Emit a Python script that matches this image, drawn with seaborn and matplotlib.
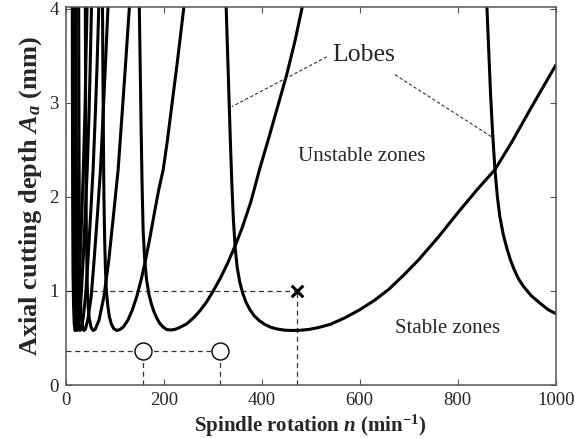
import matplotlib
matplotlib.use("Agg")
import matplotlib.pyplot as plt
import numpy as np
import pandas as pd
import seaborn as sns

# Stability lobes: spindle speed n (min^-1) and limiting axial depth a (mm)
lobe0_n = [327, 330, 333, 336, 339, 342, 346, 350, 355, 361, 368, 376, 385, 395, 406, 418, 432, 447,
           462, 478, 495, 515, 540, 570, 600, 630, 660, 690, 720, 760, 800, 840, 876, 910, 950, 1000]
lobe0_a = [4.10, 3.60, 3.10, 2.60, 2.15, 1.78, 1.45, 1.25, 1.10, 0.98, 0.88, 0.80, 0.735, 0.685, 0.645, 0.615, 0.595, 0.583,
           0.58, 0.582, 0.59, 0.61, 0.645, 0.715, 0.80, 0.90, 1.02, 1.17, 1.33, 1.57, 1.83, 2.08, 2.29, 2.58, 2.95, 3.40]

lobe1_n = [150, 152, 154, 156, 158, 161, 165, 170, 175, 180, 186, 192, 199, 206, 214, 222, 232,
           247, 262, 274, 287, 300, 315, 330, 345, 360, 378, 396, 414, 432, 451, 468, 486]
lobe1_a = [4.10, 3.40, 2.70, 2.10, 1.65, 1.35, 1.12, 0.96, 0.86, 0.78, 0.71, 0.655, 0.615, 0.59, 0.585, 0.59, 0.61,
           0.65, 0.72, 0.79, 0.88, 0.99, 1.13, 1.29, 1.47, 1.67, 1.95, 2.30, 2.62, 2.95, 3.30, 3.66, 4.10]

lobe2_n = [75, 76, 77, 78, 79.5, 81, 83, 86, 89, 93, 98, 104, 111, 118, 127, 136, 145,
           154, 163, 172, 181, 190, 199, 207, 216, 227, 235, 243]
lobe2_a = [4.10, 3.30, 2.60, 2.00, 1.55, 1.25, 1.00, 0.84, 0.73, 0.65, 0.60, 0.58, 0.59, 0.62, 0.69, 0.80, 0.94,
           1.12, 1.33, 1.57, 1.83, 2.08, 2.29, 2.58, 2.95, 3.40, 3.75, 4.10]

lobe3_n = [40, 40.6, 41.3, 42.2, 44, 46, 48, 52, 56, 60, 68, 78, 88, 98, 107, 116, 122, 131]
lobe3_a = [4.10, 3.10, 2.20, 1.60, 1.05, 0.82, 0.71, 0.61, 0.58, 0.59, 0.69, 0.94, 1.33, 1.83, 2.29, 2.95, 3.40, 4.10]

lobe4_n = [26.5, 27, 27.6, 28.5, 29.5, 31.5, 34, 37, 40, 45, 52, 58, 65, 71, 77, 81, 87]
lobe4_a = [4.10, 3.00, 2.00, 1.40, 1.00, 0.75, 0.63, 0.58, 0.59, 0.69, 0.94, 1.33, 1.83, 2.29, 2.95, 3.40, 4.10]

lobe5_n = [21, 21.5, 22.2, 23, 24.5, 26.5, 29, 32, 36, 41, 46, 51, 56, 61, 64, 68]
lobe5_a = [4.10, 2.80, 1.80, 1.20, 0.85, 0.66, 0.58, 0.60, 0.72, 0.98, 1.37, 1.83, 2.30, 2.95, 3.40, 4.10]

lobe6_n = [16.5, 17, 17.5, 18.2, 19.5, 21, 23, 25.5, 28, 32, 36, 40, 44, 48, 50, 53]
lobe6_a = [4.10, 2.80, 1.80, 1.20, 0.85, 0.66, 0.58, 0.60, 0.72, 0.98, 1.37, 1.83, 2.30, 2.95, 3.40, 4.10]

lobe7_n = [13.4, 13.8, 14.3, 14.9, 16, 17.3, 19, 21, 23.3, 26.5, 29.5, 33, 36, 39.5, 41, 44]
lobe7_a = [4.10, 2.80, 1.80, 1.20, 0.85, 0.66, 0.58, 0.60, 0.72, 0.98, 1.37, 1.83, 2.30, 2.95, 3.40, 4.10]

# Left branch of the next lobe toward higher speed
lobe_r_n = [859, 863, 867, 871, 876, 881, 886, 893, 900, 907, 915, 924, 934, 950, 968, 985, 1000]
lobe_r_a = [4.10, 3.60, 3.10, 2.70, 2.29, 2.00, 1.79, 1.60, 1.46, 1.34, 1.23, 1.13, 1.05, 0.95, 0.87, 0.80, 0.76]

# Operating points
unstable_pt = (473, 1.0)
stable_n = [157, 314]
stable_a = 0.36

x_ticks = [0, 200, 400, 600, 800, 1000]
y_ticks = [0, 1, 2, 3, 4]

lobes = [(lobe0_n, lobe0_a), (lobe1_n, lobe1_a), (lobe2_n, lobe2_a), (lobe3_n, lobe3_a),
         (lobe4_n, lobe4_a), (lobe5_n, lobe5_a), (lobe6_n, lobe6_a), (lobe7_n, lobe7_a),
         (lobe_r_n, lobe_r_a)]
df = pd.concat([pd.DataFrame({"n": n, "a": a, "lobe": i}) for i, (n, a) in enumerate(lobes)],
               ignore_index=True)

sns.set_theme(style="ticks")
plt.rcParams.update({
    "font.family": ["Liberation Serif", "DejaVu Serif"],
    "mathtext.fontset": "custom",
    "mathtext.rm": "Liberation Serif",
    "mathtext.it": "Liberation Serif:italic:bold",
    "mathtext.bf": "Liberation Serif:bold",
})

W, H = 575, 438
fig = plt.figure(figsize=(W / 100, H / 100), dpi=100)
ax = fig.add_axes([65.7 / W, 1 - 385 / H, (555.7 - 65.7) / W, (385 - 7) / H])

sns.lineplot(data=df, x="n", y="a", units="lobe", estimator=None, sort=False,
             color="black", linewidth=2.2, ax=ax, legend=False)

dash = dict(color="#333333", linewidth=0.9, linestyle=(0, (4, 3)), zorder=1)
ux, uy = unstable_pt
ax.plot([0, ux], [uy, uy], **dash)
ax.plot([ux, ux], [0, uy], **dash)
ax.plot([0, stable_n[1]], [stable_a, stable_a], **dash)
for n in stable_n:
    ax.plot([n, n], [0, stable_a], **dash)

sns.scatterplot(x=stable_n, y=[stable_a] * len(stable_n), marker="o", s=150,
                facecolor="white", edgecolor="black", linewidth=1.0, zorder=5, ax=ax)
ax.scatter([ux], [uy], marker="x", s=70, color="black", linewidths=2.2, zorder=5)

# Annotations
ax.text(609, 3.51, "Lobes", fontsize=18.5, ha="center", va="center")
ax.plot([533, 339], [3.49, 2.96], color="#333333", linewidth=0.8, linestyle=(0, (3, 2)))
ax.plot([672, 869], [3.30, 2.64], color="#333333", linewidth=0.8, linestyle=(0, (3, 2)))
ax.text(604, 2.43, "Unstable zones", fontsize=15, ha="center", va="center")
ax.text(779, 0.60, "Stable zones", fontsize=15, ha="center", va="center")

ax.set_xlim(0, 1000)
ax.set_ylim(0, 4.02)
ax.set_xticks(x_ticks)
ax.set_yticks(y_ticks)
ax.tick_params(direction="in", length=4, width=0.8, color="#555555", labelsize=13.5,
               top=True, right=True, pad=5)
for sp in ax.spines.values():
    sp.set_visible(True)
    sp.set_color("#555555")
    sp.set_linewidth(1.1)

ax.set_xlabel(r"Spindle rotation $n$ (min$^{\mathbf{-1}}$)", fontsize=15, fontweight="bold", labelpad=3)
ax.set_ylabel(r"Axial cutting depth $A_a$ (mm)", fontsize=19, fontweight="bold", labelpad=4)

fig.savefig("out.png", dpi=100)
